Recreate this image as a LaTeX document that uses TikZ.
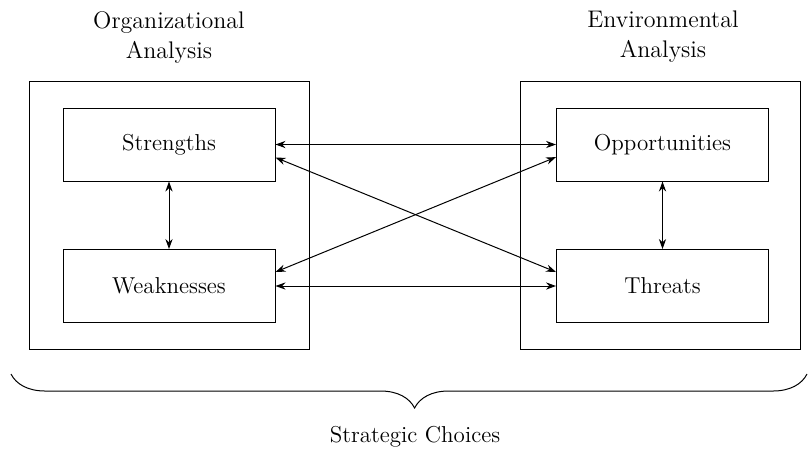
\documentclass[tikz,border=0pt]{standalone}
\usetikzlibrary{arrows.meta,decorations.pathreplacing}
\begin{document}
\begin{tikzpicture}[x=0.5pt,y=-0.5pt,
  every node/.style={font=\fontsize{11.5}{15}\selectfont},
  outerbox/.style={draw,line width=0.5pt,minimum width=140pt,minimum height=134pt,inner sep=0pt},
  innerbox/.style={draw,line width=0.5pt,minimum width=106pt,minimum height=36.5pt,inner sep=0pt},
  title/.style={align=center,font=\fontsize{12}{15}\selectfont},
  link/.style={line width=0.5pt,{Stealth[length=5pt,width=3.6pt]}-{Stealth[length=5pt,width=3.6pt]}}]
\useasboundingbox (0,0) rectangle (808,452);
\node[outerbox] (LO) at (169.5,215) {};
\node[outerbox] (RO) at (660.5,215) {};
\node[innerbox] (S) at (169,144.5) {Strengths};
\node[innerbox] (W) at (169,286) {Weaknesses};
\node[innerbox] (O) at (662.5,144.5) {Opportunities};
\node[innerbox] (T) at (662.5,286) {Threats};
\node[title] (LT) at (169,37) {Organizational\\Analysis};
\node[title] (RT) at (663,37) {Environmental\\Analysis};
\node (SC) at (415,437) {Strategic Choices};
\draw[link] (S.east) -- (O.west);
\draw[link] (W.east) -- (T.west);
\draw[link] ([yshift=-6.5pt]S.east) -- ([yshift=7pt]T.west);
\draw[link] ([yshift=7pt]W.east) -- ([yshift=-6.3pt]O.west);
\draw[link] (S.south) -- (W.north);
\draw[link] (O.south) -- (T.north);
\coordinate (BL) at (11,374);
\coordinate (BR) at (807,374);
\draw[line width=0.5pt,decorate,decoration={brace,mirror,amplitude=17pt,aspect=0.507}] (BL) -- (BR);
\end{tikzpicture}
\end{document}
